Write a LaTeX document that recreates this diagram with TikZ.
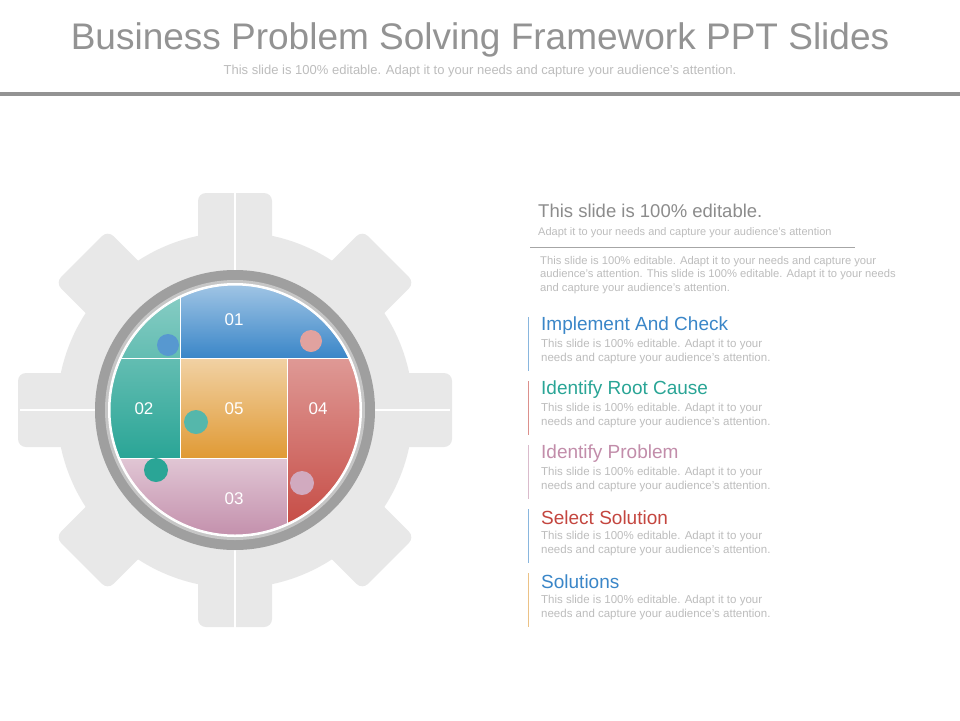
\documentclass[tikz,border=0pt]{standalone}
\usepackage{fontspec}
\setmainfont{Liberation Sans}
\usetikzlibrary{positioning,calc}
\definecolor{pBlue}{HTML}{3A86C8}
\definecolor{pTeal}{HTML}{2AA596}
\definecolor{pOrange}{HTML}{E09A35}
\definecolor{pRed}{HTML}{C4463F}
\definecolor{pPink}{HTML}{C28DAA}
\definecolor{gearGray}{HTML}{E8E8E8}
\definecolor{txtGray}{HTML}{BDBDBD}
\begin{document}
\begin{tikzpicture}[x=1pt,y=-1pt,
  pieceNum/.style={text=white,font=\fontsize{17}{17}\selectfont},
  itemTitle/.style={anchor=west,font=\fontsize{19}{19}\selectfont,inner sep=0pt},
  itemText/.style={anchor=north west,text=txtGray,align=left,inner sep=0pt,font=\fontsize{11.5}{13.5}\selectfont}]
\useasboundingbox (0,0) rectangle (960,720);
\fill[white] (0,0) rectangle (960,720);

%title
\node[text=gray!85,font=\fontsize{37}{37}\selectfont] (T) at (480,40) {Business Problem Solving Framework PPT Slides};
\node[text=txtGray,font=\fontsize{13}{13}\selectfont] (ST) at (480,71) {This slide is 100\% editable. Adapt it to your needs and capture your audience's attention.};
\fill[gray!85] (0,92) rectangle (960,96);

%gear
\coordinate (C) at (235,410);
\fill[gearGray] (C) circle (178);
\foreach \a in {0,45,...,315}
  \fill[gearGray,rounded corners=8pt,rotate around={\a:(C)}] ($(C)+(-37,-150)$) rectangle ($(C)+(37,-217)$);
\fill[gearGray] (75,396) circle (13) (392,425) circle (13) (218,572) circle (13);
\draw[white,line width=2pt] (235,190) -- (235,630) (20,410) -- (450,410);

%ring
\fill[gray!75] (C) circle (140);
\fill[gray!45] (C) circle (130);
\fill[white] (C) circle (127);

%puzzle
\begin{scope}
\clip (C) circle (125);
\shade[top color=pBlue!45,bottom color=pBlue] (100,280) rectangle (370,358);
\shade[top color=pTeal!55,bottom color=pTeal] (100,290) rectangle (180,458);
\shade[top color=pPink!50,bottom color=pPink] (100,458) rectangle (287,540);
\shade[top color=pRed!55,bottom color=pRed] (287,358) rectangle (370,540);
\shade[top color=pOrange!45,bottom color=pOrange] (180,358) rectangle (287,458);
\draw[white,line width=1pt] (180,280) -- (180,458) (100,358) -- (370,358)
  (100,458) -- (287,458) (287,358) -- (287,540);
\end{scope}
\fill[pBlue!85] (168,345) circle (11);
\fill[pRed!50] (311,341) circle (11);
\fill[pTeal!80] (196,422) circle (12);
\fill[pTeal] (156,470) circle (12);
\fill[pPink!75] (302,483) circle (12);
\draw[white,line width=1pt] (C) circle (125);

\node[pieceNum] (P1) at (234,320) {01};
\node[pieceNum] (P2) at (144,409) {02};
\node[pieceNum] (P5) at (234,409) {05};
\node[pieceNum] (P4) at (318,409) {04};
\node[pieceNum] (P3) at (234,499) {03};

%right text
\node[itemTitle,text=gray!90,font=\fontsize{18.5}{19}\selectfont] (H) at (538,211) {This slide is 100\% editable.};
\node[anchor=west,inner sep=0pt,text=txtGray,font=\fontsize{11}{11}\selectfont] (HS) at (538,233) {Adapt it to your needs and capture your audience's attention};
\draw[gray!70] (530,247) -- (855,247);
\node[itemText,font=\fontsize{11.2}{13.5}\selectfont] (HP) at (540,256) {This slide is 100\% editable. Adapt it to your needs and capture your\\audience's attention. This slide is 100\% editable. Adapt it to your needs\\and capture your audience's attention.};

\foreach \i/\t/\c/\b in {0/Implement And Check/pBlue/pBlue,1/Identify Root Cause/pTeal/pRed,2/Identify Problem/pPink/pPink,3/Select Solution/pRed/pBlue,4/Solutions/pBlue/pOrange}{
  \node[itemTitle,text=\c] (I\i) at (541,326+64*\i) {\t};
  \node[itemText] (D\i) at (541,339+64*\i) {This slide is 100\% editable. Adapt it to your\\needs and capture your audience's attention.};
  \draw[\b!60,line width=0.8pt] (528,317+64*\i) -- (528,371+64*\i);
}
\end{tikzpicture}
\end{document}
